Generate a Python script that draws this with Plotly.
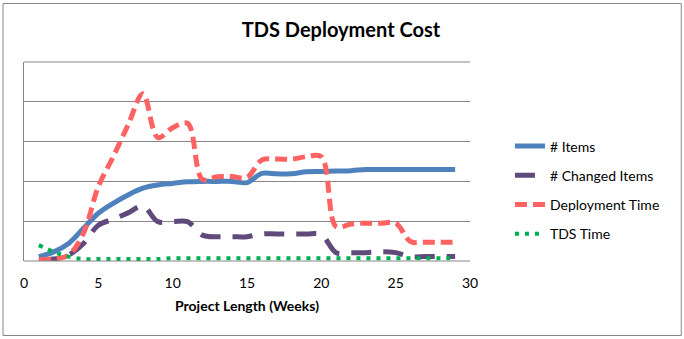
import plotly.graph_objects as go

weeks = list(range(1, 30))
items = [0.11, 0.23, 0.44, 0.82, 1.2, 1.45, 1.66, 1.83, 1.91, 1.95, 1.99, 2.0, 2.0, 2.0, 1.97,
         2.2, 2.19, 2.19, 2.24, 2.25, 2.26, 2.27, 2.3, 2.3, 2.3, 2.3, 2.3, 2.3, 2.3]
changed = [0.03, 0.05, 0.15, 0.44, 0.9, 1.05, 1.21, 1.38, 0.99, 0.99, 0.99, 0.65, 0.61, 0.61, 0.61,
           0.68, 0.68, 0.68, 0.68, 0.66, 0.21, 0.21, 0.21, 0.23, 0.21, 0.11, 0.11, 0.11, 0.11]
deploy = [0.03, 0.05, 0.15, 0.7, 1.87, 2.62, 3.42, 4.2, 3.1, 3.35, 3.46, 2.05, 2.12, 2.12, 2.1,
          2.54, 2.56, 2.56, 2.62, 2.62, 0.86, 0.93, 0.95, 0.95, 0.95, 0.49, 0.47, 0.47, 0.47]
tds = [0.4, 0.23, 0.11, 0.05, 0.05, 0.05, 0.05, 0.05, 0.05, 0.07, 0.07, 0.07, 0.07, 0.07, 0.07,
       0.07, 0.07, 0.07, 0.07, 0.07, 0.07, 0.07, 0.07, 0.07, 0.07, 0.07, 0.07, 0.07, 0.07]

x_ticks = [0, 5, 10, 15, 20, 25, 30]

fig = go.Figure()
fig.add_trace(go.Scatter(x=weeks, y=items, name="# Items", mode="lines", line_shape="spline",
                         legendgroup="a", line=dict(color="#4F81BD", width=5)))
fig.add_trace(go.Scatter(x=weeks, y=changed, name="# Changed Items", mode="lines", line_shape="spline",
                         legendgroup="b", line=dict(color="#604A7B", width=5, dash="20px,12px")))
fig.add_trace(go.Scatter(x=weeks, y=deploy, name="Deployment Time", mode="lines", line_shape="spline",
                         legendgroup="c", line=dict(color="#FF6262", width=5, dash="12px,6px")))
fig.add_trace(go.Scatter(x=weeks, y=tds, name="TDS Time", mode="lines", line_shape="spline",
                         legendgroup="d", line=dict(color="#00B050", width=4, dash="4px,6px")))

L, R, T, B = 23.5, 470, 62, 261
W, H = 684, 339
pw, ph = R - L, B - T

def px(x):
    return (x - L) / pw

def py(y):
    return (B - y) / ph

fig.update_layout(
    width=W, height=H,
    margin=dict(l=L, r=W - R, t=T, b=H - B, pad=0),
    paper_bgcolor="white", plot_bgcolor="white",
    font=dict(family="Lato, Carlito, Calibri, sans-serif", color="#000000", size=13),
    title=dict(text="<b>TDS Deployment Cost</b>", x=(341) / W, xanchor="center",
               y=1 - 30 / H, yanchor="middle", font=dict(size=20, color="#000000")),
    xaxis=dict(range=[0, 30], tickvals=x_ticks, ticktext=[str(v) for v in x_ticks],
               showgrid=False, zeroline=False, showline=False, ticks="outside", ticklen=9,
               tickcolor="rgba(0,0,0,0)",
               tickfont=dict(size=14), title=dict(text="<b>Project Length (Weeks)</b>",
                                                  font=dict(size=14), standoff=11)),
    yaxis=dict(range=[0, 5], dtick=1, showticklabels=False, showgrid=True, gridcolor="#868686",
               gridwidth=1, zeroline=False, showline=True, linecolor="#868686", linewidth=1,
               ticks=""),
    legend=dict(x=px(510), xanchor="left", y=py(130.5), yanchor="top", font=dict(size=14),
                bgcolor="rgba(0,0,0,0)", tracegroupgap=8, itemwidth=30),
    showlegend=True,
)

fig.add_shape(type="line", xref="paper", yref="paper", x0=0, x1=1, y0=0, y1=0,
              line=dict(color="#868686", width=1))
fig.add_shape(type="line", xref="paper", yref="paper", x0=0, x1=1, y0=1, y1=1,
              line=dict(color="#868686", width=1))
fig.add_shape(type="rect", xref="paper", yref="paper", x0=px(2.5), x1=px(681.5),
              y0=py(335.5), y1=py(3.5), line=dict(color="#868686", width=1), layer="below")

fig.write_html("out.html")
